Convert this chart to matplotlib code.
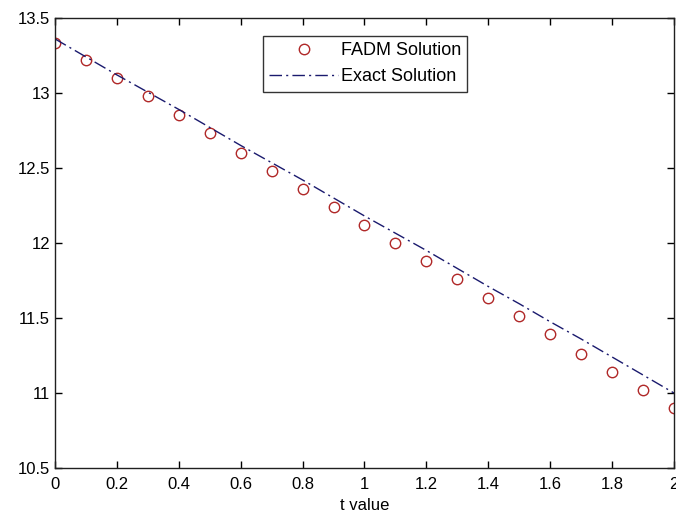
import matplotlib
matplotlib.use("Agg")
import matplotlib.pyplot as plt

# Time samples and the two solution curves
t_values = [0.0, 0.1, 0.2, 0.3, 0.4, 0.5, 0.6, 0.7, 0.8, 0.9, 1.0,
            1.1, 1.2, 1.3, 1.4, 1.5, 1.6, 1.7, 1.8, 1.9, 2.0]
fadm_solution = [13.33, 13.22, 13.10, 12.98, 12.85, 12.73, 12.60, 12.48,
                 12.36, 12.24, 12.12, 12.00, 11.88, 11.76, 11.63, 11.51,
                 11.39, 11.26, 11.14, 11.02, 10.90]
exact_solution = [13.36, 13.24, 13.12, 13.005, 12.89, 12.77, 12.65, 12.535,
                  12.42, 12.30, 12.18, 12.065, 11.95, 11.83, 11.71, 11.595,
                  11.475, 11.36, 11.24, 11.12, 11.00]

x_ticks = [0, 0.2, 0.4, 0.6, 0.8, 1, 1.2, 1.4, 1.6, 1.8, 2]
x_tick_labels = ["0", "0.2", "0.4", "0.6", "0.8", "1", "1.2", "1.4", "1.6", "1.8", "2"]
y_ticks = [10.5, 11, 11.5, 12, 12.5, 13, 13.5]
y_tick_labels = ["10.5", "11", "11.5", "12", "12.5", "13", "13.5"]

plt.rcParams["font.family"] = ["Liberation Sans", "DejaVu Sans"]

fig = plt.figure(figsize=(6.76, 5.12), dpi=100)
ax = fig.add_axes([0.0814, 0.0859, 0.9156, 0.8791])

ax.plot(t_values, fadm_solution, linestyle="none", marker="o", markersize=7.5,
        markerfacecolor="none", markeredgecolor="#b02828", markeredgewidth=1.0,
        label="FADM Solution")
ax.plot(t_values, exact_solution, linestyle=(0, (9, 3, 1.5, 3)), color="#1a1a6e",
        linewidth=1.0, label="Exact Solution")

ax.set_xlim(0, 2)
ax.set_ylim(10.5, 13.5)
ax.set_xticks(x_ticks)
ax.set_xticklabels(x_tick_labels)
ax.set_yticks(y_ticks)
ax.set_yticklabels(y_tick_labels)
ax.tick_params(direction="in", length=5, width=1, top=True, right=True,
               labelsize=12, colors="black")
ax.tick_params(axis="x", pad=6.5)
ax.tick_params(axis="y", pad=3.5)
for spine in ax.spines.values():
    spine.set_linewidth(1.0)
    spine.set_color("#202020")

ax.set_xlabel("t value", fontsize=12, labelpad=4)

leg = ax.legend(loc="upper left", bbox_to_anchor=(0.336, 0.96), fontsize=13,
                frameon=True, fancybox=False, edgecolor="black",
                borderpad=0.35, handlelength=3.8, handletextpad=0.15,
                labelspacing=0.5, borderaxespad=0)
leg.get_frame().set_linewidth(1.0)

fig.savefig("out.png", dpi=100)
